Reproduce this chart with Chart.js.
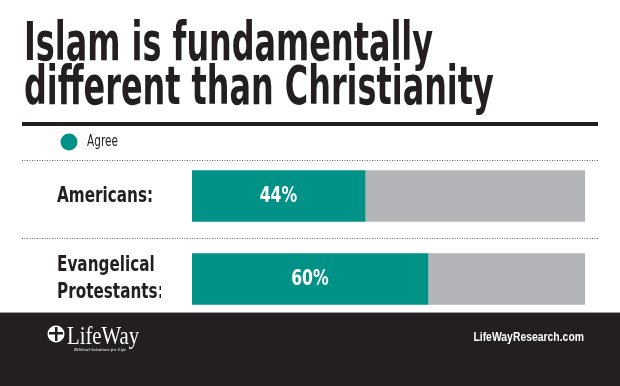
<!DOCTYPE html>
<html>
<head>
<meta charset="utf-8">
<script src="https://cdn.jsdelivr.net/npm/chart.js@4/dist/chart.umd.min.js"></script>
<style>
  html, body { margin: 0; padding: 0; background: #ffffff; }
  #wrap { width: 620px; height: 386px; position: relative; }
</style>
</head>
<body>
<div id="wrap"><canvas id="c" width="620" height="386"></canvas></div>
<script>
// ---- data ----
const titleLines = ['Islam is fundamentally', 'different than Christianity'];
const categories = ['Americans:', ['Evangelical', 'Protestants:']];
const seriesName = 'Agree';
const agreeValues = [44, 60];
const restValues = [56, 40];
const footerUrl = 'LifeWayResearch.com';
const logoText = 'LifeWay';
const logoTagline = 'Biblical Solutions for Life';

const TEAL = '#009287';
const GREY = '#b2b4b7';
const INK = '#231f20';
const NARROW = "'Liberation Sans Narrow', 'DejaVu Sans Condensed', 'Arial Narrow', sans-serif";

// category axis whose labels are drawn horizontally condensed (narrow gothic look)
class NarrowCategory extends Chart.CategoryScale {
  drawLabels(chartArea) {
    const ctx = this.ctx;
    ctx.save();
    ctx.translate(this.left, 0);
    ctx.scale(0.77, 1);
    ctx.translate(-this.left, 0);
    super.drawLabels(chartArea);
    ctx.restore();
  }
}
NarrowCategory.id = 'narrowCategory';
NarrowCategory.defaults = Chart.CategoryScale.defaults;
Chart.register(NarrowCategory);

function narrowText(ctx, text, x, y, k) {
  ctx.save();
  ctx.translate(x, y);
  ctx.scale(k, 1);
  ctx.fillText(text, 0, 0);
  ctx.restore();
}

const decor = {
  id: 'decor',
  beforeDraw(chart) {
    const ctx = chart.ctx;
    ctx.save();
    ctx.fillStyle = '#ffffff';
    ctx.fillRect(0, 0, chart.width, chart.height);

    // title
    ctx.fillStyle = INK;
    ctx.font = 'bold 53px ' + NARROW;
    ctx.textBaseline = 'alphabetic';
    ctx.textAlign = 'left';
    const w1 = ctx.measureText(titleLines[0]).width;
    const sx = 409 / w1;
    const baselines = [60, 104];
    titleLines.forEach((t, i) => narrowText(ctx, t, 24, baselines[i], sx));

    // thick rule
    ctx.fillRect(22, 122, 576, 4);

    // legend
    ctx.fillStyle = TEAL;
    ctx.beginPath();
    ctx.arc(69, 142, 8.5, 0, Math.PI * 2);
    ctx.fill();
    ctx.fillStyle = INK;
    ctx.font = '15px ' + NARROW;
    ctx.textBaseline = 'middle';
    narrowText(ctx, chart.data.datasets[0].label, 87, 142, 0.78);

    // dotted separators
    ctx.strokeStyle = '#666';
    ctx.lineWidth = 1;
    ctx.setLineDash([1, 1.5]);
    [160.5, 238.5].forEach(y => {
      ctx.beginPath();
      ctx.moveTo(22, y);
      ctx.lineTo(598, y);
      ctx.stroke();
    });
    ctx.restore();
  },
  afterDatasetsDraw(chart) {
    const ctx = chart.ctx;
    const meta = chart.getDatasetMeta(0);
    ctx.save();
    ctx.fillStyle = '#ffffff';
    ctx.font = 'bold 21px ' + NARROW;
    ctx.textAlign = 'center';
    ctx.textBaseline = 'middle';
    meta.data.forEach((bar, i) => {
      const cx = (bar.x + bar.base) / 2;
      narrowText(ctx, chart.data.datasets[0].data[i] + '%', cx, bar.y + 1, 0.83);
    });
    ctx.restore();
  },
  afterDraw(chart) {
    const ctx = chart.ctx;
    ctx.save();
    // footer
    ctx.fillStyle = '#9b9b9b';
    ctx.fillRect(0, 312, 620, 1);
    ctx.fillStyle = INK;
    ctx.fillRect(0, 313, 620, 73);

    ctx.fillStyle = '#ffffff';
    ctx.font = "bold 13px 'Liberation Sans', Arial, sans-serif";
    ctx.textAlign = 'right';
    ctx.textBaseline = 'middle';
    narrowText(ctx, footerUrl, 584, 337, 0.8);

    // logo
    ctx.beginPath();
    ctx.arc(56, 334, 8.5, 0, Math.PI * 2);
    ctx.fill();
    ctx.fillStyle = INK;
    ctx.fillRect(55, 327, 2.5, 14);
    ctx.fillRect(49, 332, 14, 2.5);
    ctx.fillStyle = '#ffffff';
    ctx.textAlign = 'left';
    ctx.textBaseline = 'alphabetic';
    ctx.font = "25px 'Liberation Serif', 'DejaVu Serif', serif";
    narrowText(ctx, logoText, 67, 344, 0.83);
    ctx.font = "italic 5px 'Liberation Serif', serif";
    ctx.fillText(logoTagline, 74, 351);
    ctx.restore();
  }
};

new Chart(document.getElementById('c'), {
  type: 'bar',
  data: {
    labels: categories,
    datasets: [
      { label: seriesName, data: agreeValues, backgroundColor: TEAL, borderWidth: 0, barThickness: 51 },
      { label: 'Other', data: restValues, backgroundColor: GREY, borderWidth: 0, barThickness: 51 }
    ]
  },
  options: {
    indexAxis: 'y',
    responsive: false,
    animation: false,
    devicePixelRatio: 1,
    layout: { padding: { left: 57, right: 35, top: 154.5, bottom: 65.5 } },
    plugins: { legend: { display: false }, tooltip: { enabled: false }, title: { display: false } },
    scales: {
      x: { stacked: true, min: 0, max: 100, display: false },
      y: {
        type: 'narrowCategory',
        stacked: true,
        grid: { display: false, drawTicks: false },
        border: { display: false },
        afterFit(scale) { scale.width = 135; },
        ticks: {
          crossAlign: 'far',
          padding: 0,
          color: INK,
          font: { family: NARROW, size: 22, weight: 'bold', lineHeight: 1.23 }
        }
      }
    }
  },
  plugins: [decor]
});
</script>
</body>
</html>
